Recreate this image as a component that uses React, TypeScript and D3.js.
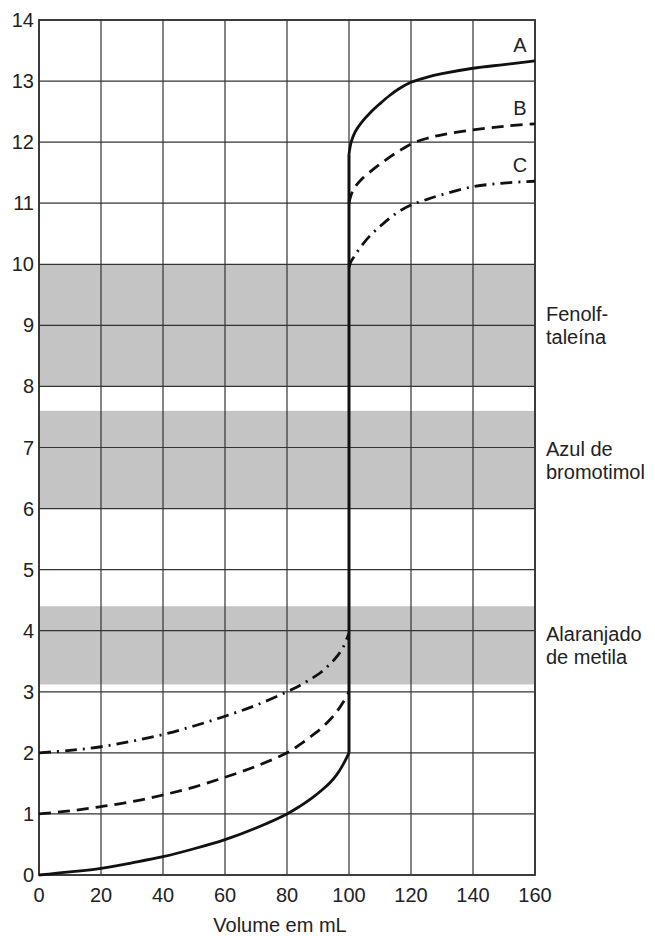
import React, { useEffect, useRef } from 'react';
import * as d3 from 'd3';

// volume em mL (x) e pH (y)
const lowerX = [0, 10, 20, 30, 40, 50, 60, 70, 80, 84, 88, 91, 94, 96, 98, 100];
const lowerA = [0, 0.05, 0.11, 0.2, 0.3, 0.43, 0.58, 0.77, 1.0, 1.12, 1.26, 1.38, 1.52, 1.64, 1.8, 2.0];
const lowerB = [1, 1.05, 1.12, 1.2, 1.31, 1.44, 1.6, 1.78, 2.0, 2.13, 2.28, 2.4, 2.55, 2.67, 2.82, 3.0];
const lowerC = [2, 2.04, 2.1, 2.19, 2.3, 2.44, 2.6, 2.78, 3.0, 3.1, 3.22, 3.32, 3.46, 3.57, 3.72, 3.96];

const upperX = [100, 100.7, 102, 104, 107, 110, 113, 116, 120, 125, 130, 140, 150, 160];
const upperA = [11.8, 12.0, 12.17, 12.32, 12.49, 12.63, 12.76, 12.87, 12.98, 13.06, 13.12, 13.21, 13.27, 13.33];
const upperB = [11.0, 11.14, 11.27, 11.39, 11.52, 11.64, 11.75, 11.85, 11.97, 12.06, 12.12, 12.2, 12.26, 12.3];
const upperC = [9.95, 10.05, 10.15, 10.3, 10.48, 10.62, 10.75, 10.86, 10.97, 11.06, 11.14, 11.27, 11.33, 11.36];

const seriesNames = ['A', 'B', 'C'];
const seriesDash = ['none', '12,7', '12,6,2,6'];

const indicators = [
    { lines: ['Fenolf-', 'taleína'], from: 8, to: 10 },
    { lines: ['Azul de', 'bromotimol'], from: 6, to: 7.6 },
    { lines: ['Alaranjado', 'de metila'], from: 3.12, to: 4.4 },
];

const xTicks = [0, 20, 40, 60, 80, 100, 120, 140, 160];
const yTicks = d3.range(0, 15);
const xLabel = 'Volume em mL';

const FONT = 'Liberation Sans, Arial, Helvetica, sans-serif';

const App = () => {
    const svgRef = useRef(null);

    useEffect(() => {
        drawChart();
    }, []);

    const drawChart = () => {
        const svg = d3.select(svgRef.current);
        svg.selectAll('*').remove();

        const left = 39, right = 535, top = 20, bottom = 875;

        const x = d3.scaleLinear().domain([0, 160]).range([left, right]);
        const y = d3.scaleLinear().domain([0, 14]).range([bottom, top]);

        svg.append('rect')
            .attr('width', 655).attr('height', 936).attr('fill', '#fff');

        // faixas de viragem dos indicadores
        indicators.forEach(ind => {
            svg.append('rect')
                .attr('x', x(0))
                .attr('y', y(ind.to))
                .attr('width', x(160) - x(0))
                .attr('height', y(ind.from) - y(ind.to))
                .attr('fill', '#c4c4c4');

            const mid = (y(ind.from) + y(ind.to)) / 2;
            ind.lines.forEach((txt, i) => {
                svg.append('text')
                    .attr('x', 546)
                    .attr('y', mid - 4 + i * 23)
                    .attr('font-family', FONT)
                    .attr('font-size', 20)
                    .attr('fill', '#222')
                    .text(txt);
            });
        });

        // grade
        const grid = svg.append('g').attr('stroke', '#333').attr('stroke-width', 1.2);
        xTicks.forEach(t => {
            grid.append('line')
                .attr('x1', x(t)).attr('x2', x(t))
                .attr('y1', y(0)).attr('y2', y(14));
        });
        yTicks.forEach(t => {
            grid.append('line')
                .attr('x1', x(0)).attr('x2', x(160))
                .attr('y1', y(t)).attr('y2', y(t));
        });
        svg.append('rect')
            .attr('x', x(0)).attr('y', y(14))
            .attr('width', x(160) - x(0)).attr('height', y(0) - y(14))
            .attr('fill', 'none')
            .attr('stroke', '#333')
            .attr('stroke-width', 1.8);

        // rótulos dos eixos
        svg.append('g').selectAll('text')
            .data(xTicks)
            .enter()
            .append('text')
            .attr('x', d => x(d))
            .attr('y', 902)
            .attr('text-anchor', 'middle')
            .attr('font-family', FONT)
            .attr('font-size', 20)
            .attr('fill', '#222')
            .text(d => d);

        svg.append('g').selectAll('text')
            .data(yTicks)
            .enter()
            .append('text')
            .attr('x', 34)
            .attr('y', d => y(d) + 7)
            .attr('text-anchor', 'end')
            .attr('font-family', FONT)
            .attr('font-size', 20)
            .attr('fill', '#222')
            .text(d => d);

        svg.append('text')
            .attr('x', 280)
            .attr('y', 932)
            .attr('text-anchor', 'middle')
            .attr('font-family', FONT)
            .attr('font-size', 20)
            .attr('fill', '#222')
            .text(xLabel);

        // curvas de titulação
        const line = d3.line()
            .x(d => x(d[0]))
            .y(d => y(d[1]))
            .curve(d3.curveCatmullRom.alpha(0.5));

        const lowers = [lowerA, lowerB, lowerC];
        const uppers = [upperA, upperB, upperC];

        // desenha C, B e depois A por cima
        [2, 1, 0].forEach(i => {
            const g = svg.append('g')
                .attr('fill', 'none')
                .attr('stroke', '#111')
                .attr('stroke-width', 2.8)
                .attr('stroke-dasharray', seriesDash[i]);

            const lo = lowerX.map((v, k) => [v, lowers[i][k]]);
            const up = upperX.map((v, k) => [v, uppers[i][k]]);

            g.append('path').attr('d', line(lo));
            g.append('path').attr('d', line(up));

            if (i === 0) {
                // salto vertical no ponto de equivalência
                g.append('line')
                    .attr('x1', x(lowerX[lowerX.length - 1]))
                    .attr('x2', x(upperX[0]))
                    .attr('y1', y(lowers[i][lowers[i].length - 1]))
                    .attr('y2', y(uppers[i][0]))
                    .attr('stroke-width', 3);
            }

            svg.append('text')
                .attr('x', 520)
                .attr('y', y(uppers[i][uppers[i].length - 1]) - 9)
                .attr('text-anchor', 'middle')
                .attr('font-family', FONT)
                .attr('font-size', 20)
                .attr('fill', '#222')
                .text(seriesNames[i]);
        });
    };

    return (
        <svg
            ref={svgRef}
            width={655}
            height={936}
            style={{ position: 'absolute', left: 0, top: 0, display: 'block' }}
        ></svg>
    );
};

export default App;
